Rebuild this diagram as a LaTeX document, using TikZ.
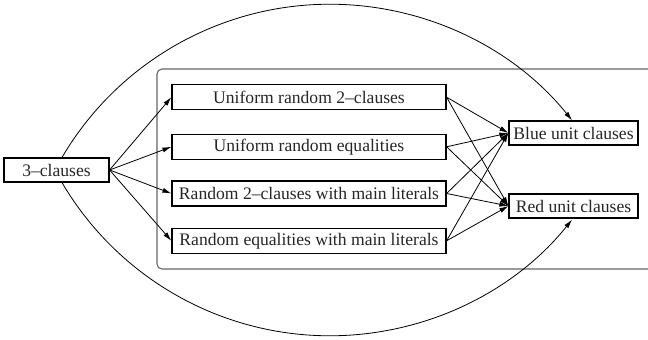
\documentclass[tikz,border=0pt]{standalone}
\usepackage{fontspec}
\setmainfont{Liberation Serif}
\usetikzlibrary{arrows.meta}
\begin{document}
\begin{tikzpicture}[x=1pt,y=1pt,
  box/.style={draw=black, line width=1.2pt, inner sep=0pt, minimum height=25pt,
    font=\fontsize{17.6}{20}\selectfont, text=black!85, fill=white},
  leftbox/.style={box, minimum width=274pt},
  unitbox/.style={box, minimum width=129pt, minimum height=24pt},
  srcbox/.style={box, minimum width=105pt, minimum height=24pt},
  conn/.style={line width=0.8pt, -{Latex[length=9pt,width=5pt]}},
  container/.style={draw=black!60, line width=1.1pt, rounded corners=5pt}]
\useasboundingbox (0,0) rectangle (648,-340);
\fill[white] (0,0) rectangle (648,-340);
\clip (0,0) rectangle (648,-340);
\draw[container] (157,-69) rectangle (680,-269);

\node[srcbox] (c3) at (56.5,-170) {3--clauses};
\node[leftbox] (u2) at (309,-97.2) {Uniform random 2--clauses};
\node[leftbox] (ue) at (309,-146.8) {Uniform random equalities};
\node[leftbox] (r2) at (309,-193.5) {Random 2--clauses with main literals};
\node[leftbox] (re) at (309,-240.8) {Random equalities with main literals};
\node[unitbox] (blue) at (573.5,-133) {Blue unit clauses};
\node[unitbox] (red) at (573.5,-206) {Red unit clauses};

\foreach \t in {u2,ue,r2,re}{
  \draw[conn] (c3.east) -- (\t.west);
  \draw[conn] (\t.east) -- (blue.west);
  \draw[conn] (\t.east) -- (red.west);
}
\draw[conn] ([xshift=5.5pt]c3.north) arc[start angle=149.54, end angle=38.76, radius=310.7];
\draw[conn] ([xshift=5.5pt]c3.south) arc[start angle=-149.54, end angle=-38.76, radius=310.7];
\end{tikzpicture}
\end{document}
